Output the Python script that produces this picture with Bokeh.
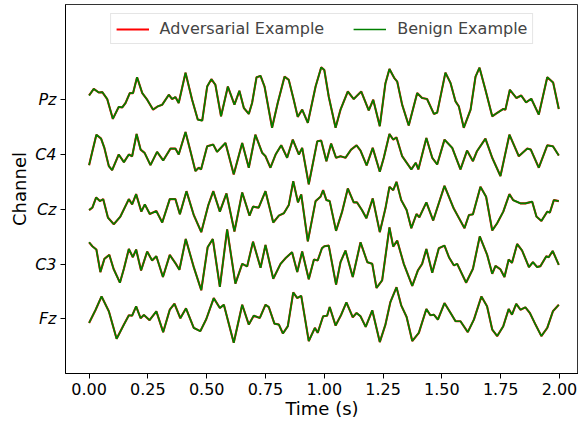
from bokeh.plotting import figure
from bokeh.models import FixedTicker, Legend, LegendItem, NumeralTickFormatter
from bokeh.embed import file_html
from bokeh.resources import INLINE

channels = ["Fz", "C3", "Cz", "C4", "Pz"]
x_ticks = [0.0, 0.25, 0.5, 0.75, 1.0, 1.25, 1.5, 1.75, 2.0]

pz = [(0,4.3),(0.02,11),(0.041,7.3),(0.056,7.7),(0.077,0.7),(0.101,-19.3),(0.126,-7.3),(0.141,-7.7),(0.155,-3.3),(0.173,6.7),(0.187,6.7),(0.204,22.7),(0.226,6.7),(0.247,0),(0.272,-10),(0.292,-6.7),(0.311,-5),(0.339,5),(0.353,0.7),(0.367,2.7),(0.381,-3.3),(0.41,27.3),(0.438,0),(0.462,-20),(0.481,-21),(0.502,13.3),(0.52,20.7),(0.537,15),(0.561,-16.7),(0.59,13.3),(0.618,-5),(0.639,9),(0.658,-8.3),(0.679,-14.3),(0.693,-3.3),(0.712,22.7),(0.729,24),(0.746,13.3),(0.778,-28.3),(0.802,-3.3),(0.831,23.3),(0.849,20),(0.87,0),(0.887,-17.3),(0.906,-10),(0.93,-23.3),(0.963,13.3),(0.987,32.7),(1.0,30),(1.019,3),(1.048,-28.3),(1.069,-10),(1.1,8.3),(1.125,0.7),(1.157,8.3),(1.189,-10.7),(1.208,0),(1.236,-26.7),(1.26,16.7),(1.277,31),(1.298,21.7),(1.31,18.3),(1.331,-5),(1.359,-26),(1.395,6.7),(1.416,1.7),(1.437,0.7),(1.466,-14.3),(1.48,-13),(1.515,27.3),(1.537,16.7),(1.558,-1.7),(1.572,-6.7),(1.593,-28.3),(1.622,-10),(1.643,23.3),(1.66,32.3),(1.685,10),(1.714,-16.7),(1.735,-13.3),(1.761,-9.3),(1.77,-10),(1.789,10),(1.817,1.7),(1.837,4.3),(1.858,-2.7),(1.88,1),(1.912,-15),(1.948,22.7),(1.973,17.3),(1.997,-9.3)]

c4 = [(0,-10.7),(0.014,3.3),(0.031,20),(0.051,16),(0.065,6.7),(0.084,-11.7),(0.098,-15.7),(0.126,0),(0.148,-7.7),(0.169,0),(0.183,-1.7),(0.202,20.7),(0.219,5),(0.236,1.7),(0.261,-10.7),(0.289,2.7),(0.315,-6),(0.346,6),(0.367,6),(0.381,0),(0.41,22.7),(0.431,3.3),(0.452,-16.7),(0.466,-13.3),(0.476,-15),(0.502,8.3),(0.528,10),(0.544,2.7),(0.58,11.7),(0.615,-20),(0.651,11.7),(0.679,-13.3),(0.707,20),(0.736,1.7),(0.75,-1.7),(0.771,-13.3),(0.793,0),(0.817,9.3),(0.842,-3.3),(0.866,15),(0.892,0),(0.906,6.7),(0.934,-30),(0.97,13.3),(0.987,14),(1.009,-6.7),(1.029,11),(1.05,-3.3),(1.069,-1.7),(1.09,-3.3),(1.114,5),(1.137,9.3),(1.154,4),(1.18,-11),(1.206,6.7),(1.236,-17.3),(1.253,-3.3),(1.277,20.7),(1.293,15),(1.307,17.3),(1.331,-1.7),(1.37,-15),(1.389,-8.3),(1.4,-15),(1.434,16.7),(1.459,-3.3),(1.48,-10),(1.511,15),(1.544,6.7),(1.579,-15),(1.607,4),(1.632,-6.7),(1.649,3.3),(1.685,16),(1.714,-3.3),(1.749,-21.7),(1.787,20),(1.827,-1.7),(1.863,6),(1.878,5),(1.912,-13.3),(1.948,9.3),(1.972,8.3),(1.997,-1)]

cz = [(0,-0.7),(0.014,1.7),(0.03,12),(0.046,8.3),(0.06,10.3),(0.08,-8.3),(0.105,-15),(0.133,-7.3),(0.169,10.3),(0.183,5),(0.2,15.3),(0.222,-2.3),(0.237,5),(0.258,-4.7),(0.286,-1.7),(0.311,-13.3),(0.343,10.3),(0.367,10.3),(0.386,-5),(0.414,18.3),(0.445,-5.7),(0.477,-23),(0.507,4.3),(0.528,18.3),(0.556,-2.3),(0.584,16),(0.618,-22.3),(0.651,17),(0.682,-6.3),(0.697,2.7),(0.721,1.7),(0.75,18.3),(0.783,-13.3),(0.807,-6.3),(0.828,-4),(0.849,4.3),(0.868,28.3),(0.888,7),(0.902,15),(0.93,-32.3),(0.963,8.3),(0.984,12.7),(0.995,19.3),(1.009,9.3),(1.023,8.3),(1.05,-21.7),(1.076,-2.3),(1.1,21),(1.125,7),(1.139,7),(1.16,-0.7),(1.179,-9),(1.206,11),(1.236,-23),(1.26,1),(1.277,22.7),(1.293,19.3),(1.307,27.7),(1.327,9.3),(1.35,-0.7),(1.37,-19),(1.392,-4.7),(1.404,-8),(1.434,7),(1.463,-11.3),(1.511,23.7),(1.55,1),(1.596,-19),(1.615,-5.7),(1.632,-5),(1.664,22.7),(1.688,12.7),(1.714,-21.3),(1.735,-14),(1.761,-2.3),(1.787,15.3),(1.803,9.3),(1.834,6),(1.855,6),(1.884,7.7),(1.902,-7.3),(1.923,-11.7),(1.948,-2.3),(1.959,-3.3),(1.976,9.3),(1.997,8.3)]

c3 = [(0,22),(0.014,18),(0.031,14.7),(0.048,-8),(0.065,5.3),(0.086,9.3),(0.104,-4.7),(0.131,-18.7),(0.148,-4.7),(0.169,15.3),(0.186,7),(0.2,14.7),(0.221,-6.3),(0.247,12.7),(0.268,3.7),(0.286,8),(0.314,-13),(0.343,9.3),(0.367,1),(0.384,-5.7),(0.411,25.3),(0.445,-3),(0.477,-26.3),(0.504,17),(0.526,25.3),(0.556,-23),(0.587,35),(0.622,-19.7),(0.651,0.3),(0.672,-2.3),(0.697,22.7),(0.729,-3.7),(0.75,19.3),(0.783,-14.7),(0.814,0.3),(0.835,6),(0.863,12),(0.885,-8),(0.906,12.7),(0.934,-15.3),(0.956,4.7),(0.972,3.7),(0.99,16),(1.0,18),(1.019,18.7),(1.05,-20.7),(1.069,2),(1.09,13.7),(1.121,-13),(1.154,22),(1.183,2),(1.204,0.3),(1.222,-24),(1.246,-16.3),(1.277,37),(1.293,17.7),(1.31,23.7),(1.338,0.3),(1.374,-22),(1.398,-6.3),(1.416,0.3),(1.434,15.3),(1.459,-8.7),(1.487,16),(1.511,18.7),(1.53,7),(1.551,-1.3),(1.565,0.3),(1.603,-18.7),(1.632,-4.7),(1.661,28),(1.692,9.7),(1.714,-9.7),(1.728,-1.7),(1.749,-5.3),(1.766,-13),(1.784,4.7),(1.798,1.3),(1.82,20.3),(1.841,13.7),(1.87,-3),(1.887,2),(1.905,-3),(1.919,-2),(1.944,8),(1.954,7),(1.971,13.3),(1.997,-0.7)]

fz = [(0,-4),(0.028,9.3),(0.053,22.7),(0.084,7.7),(0.117,-20),(0.148,-5.7),(0.169,3.7),(0.183,3.3),(0.2,12.7),(0.219,0.7),(0.233,4),(0.257,-1.3),(0.286,7.7),(0.315,-13.3),(0.343,9.3),(0.363,15.3),(0.388,0.7),(0.412,10.7),(0.445,-9),(0.473,-12.3),(0.498,-0.3),(0.53,21),(0.556,11),(0.573,14.3),(0.615,-24),(0.651,14.3),(0.679,-5.7),(0.7,3.3),(0.726,1),(0.75,14.3),(0.764,12),(0.788,-4.7),(0.807,-5.7),(0.824,-14.7),(0.845,-7.3),(0.868,26.7),(0.885,21),(0.902,23.3),(0.934,-22.3),(0.96,-9),(0.972,-14),(0.995,2.7),(1.012,3.3),(1.023,12),(1.048,-6.7),(1.072,4.3),(1.094,16.7),(1.121,1.7),(1.137,6),(1.154,2.7),(1.176,-8),(1.204,8.7),(1.236,-23.3),(1.26,-5.7),(1.281,17),(1.307,32),(1.327,13.7),(1.35,2),(1.374,-22.3),(1.402,-14),(1.434,10),(1.451,3.7),(1.466,4.3),(1.483,-0.7),(1.511,16),(1.537,6),(1.558,-2.3),(1.579,-2.3),(1.61,-13.3),(1.636,-0.7),(1.668,22.7),(1.692,12.7),(1.714,-10.7),(1.735,-17.3),(1.761,-7.3),(1.784,10),(1.798,4.3),(1.816,15.3),(1.834,9.3),(1.855,11.7),(1.874,6),(1.898,-5.7),(1.923,-17.3),(1.948,-9),(1.972,7.7),(1.997,14.3)]

signals = [fz, c3, cz, c4, pz]
SPACING = 55.25
offsets = [i * SPACING for i in range(len(channels))]

FONT = "DejaVu Sans"

p = figure(width=578, height=421, output_backend="svg", toolbar_location=None,
           x_range=(-0.1003, 2.0808), y_range=(-55, 317),
           min_border_left=65, min_border_right=0, min_border_top=4, min_border_bottom=45)

red_renderers = []
green_renderers = []
for sig, off in zip(signals, offsets):
    t = [a for a, b in sig]
    v = [b + off for a, b in sig]
    r = p.line(t, v, line_color="#ff0000", line_width=2.1)
    g = p.line(t, v, line_color="#008000", line_width=1.7)
    red_renderers.append(r)
    green_renderers.append(g)

p.xgrid.visible = False
p.ygrid.visible = False
p.outline_line_color = "#000000"
p.outline_line_width = 1
p.outline_line_alpha = 0.8

p.xaxis.ticker = FixedTicker(ticks=x_ticks)
p.xaxis.formatter = NumeralTickFormatter(format="0.00")
p.yaxis.ticker = FixedTicker(ticks=offsets)
p.yaxis.major_label_overrides = {o: c for o, c in zip(offsets, channels)}
p.yaxis.major_label_text_font_style = "italic"

for ax in (p.xaxis[0], p.yaxis[0]):
    ax.major_label_text_font = FONT
    ax.major_label_text_font_size = "16px"
    ax.major_label_text_color = "#000000"
    ax.axis_label_text_font = FONT
    ax.axis_label_text_font_size = "18px"
    ax.axis_label_text_font_style = "normal"
    ax.axis_label_text_color = "#000000"
    ax.minor_tick_line_color = None
    ax.major_tick_in = 0
    ax.major_tick_out = 5
    ax.major_tick_line_color = "#000000"
    ax.axis_line_color = "#000000"
    ax.major_label_standoff = 4
    ax.axis_label_standoff = 2

p.xaxis.axis_label = "Time (s)"
p.yaxis.axis_label = "Channel"
p.xaxis.axis_label_standoff = 0

legend = Legend(items=[LegendItem(label="Adversarial Example", renderers=[red_renderers[0]]),
                       LegendItem(label="Benign Example", renderers=[green_renderers[0]])],
                orientation="horizontal", location="top_center",
                label_text_font=FONT, label_text_font_size="16px",
                label_height=18, glyph_height=18,
                glyph_width=33, label_standoff=11, spacing=29,
                padding=5, margin=9,
                border_line_color="#cccccc", border_line_width=1,
                background_fill_alpha=0.8)
p.add_layout(legend, "center")

open("out.html", "w").write(file_html(p, INLINE))
